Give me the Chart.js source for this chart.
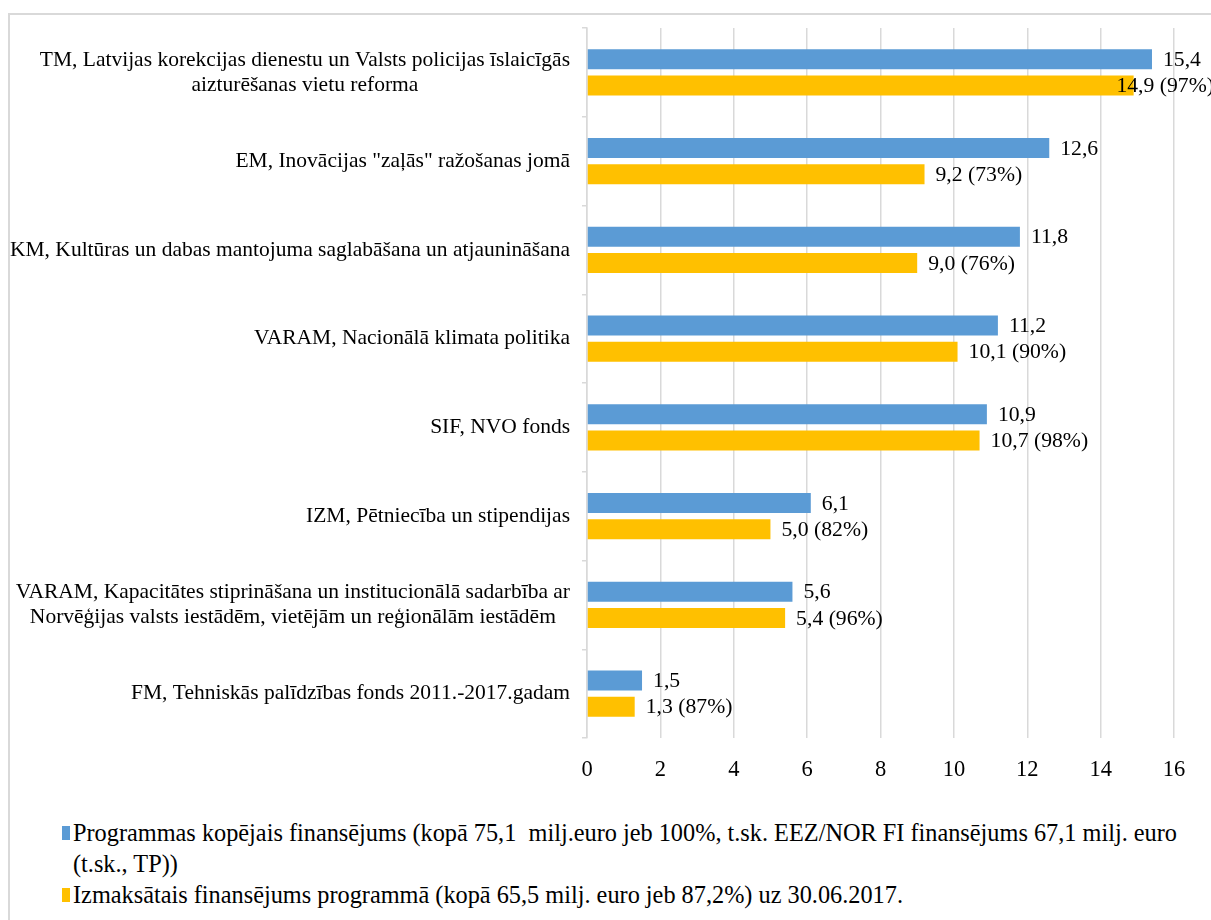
<!DOCTYPE html>
<html>
<head>
<meta charset="utf-8">
<script src="https://cdn.jsdelivr.net/npm/chart.js@4.4.1/dist/chart.umd.min.js"></script>
<style>
    html, body { margin: 0; padding: 0; background: #fff; overflow: hidden; }
    #wrap { position: relative; width: 1211px; height: 920px; overflow: hidden; }
    #frame {
        position: absolute; left: 8px; top: 13px; width: 1300px; height: 1000px;
        border: 2px solid #d9d9d9; box-sizing: border-box;
    }
    #chart-box { position: absolute; left: 0; top: 0; width: 1211px; height: 800px; }
    #legend {
        position: absolute; left: 62px; top: 817px; width: 1142px;
        font-family: "Liberation Serif", "Times New Roman", serif; font-size: 24.3px;
        line-height: 31px; color: #000;
    }
    .item { display: flex; align-items: flex-start; }
    .swatch { flex: none; width: 8px; height: 14px; margin-top: 9px; margin-right: 3px; }
    .text { flex: 1; white-space: pre-wrap; }
</style>
</head>
<body>
<div id="wrap">
    <div id="frame"></div>
    <div id="chart-box"><canvas id="bar-chart" width="1211" height="800"></canvas></div>
    <div id="legend"></div>
</div>
<script>
// Categories (multi-line labels)
const categories = [
    ['TM, Latvijas korekcijas dienestu un Valsts policijas īslaicīgās', 'aizturēšanas vietu reforma'],
    ['EM, Inovācijas "zaļās" ražošanas jomā'],
    ['KM, Kultūras un dabas mantojuma saglabāšana un atjaunināšana'],
    ['VARAM, Nacionālā klimata politika'],
    ['SIF, NVO fonds'],
    ['IZM, Pētniecība un stipendijas'],
    ['VARAM, Kapacitātes stiprināšana un institucionālā sadarbība ar', 'Norvēģijas valsts iestādēm, vietējām un reģionālām iestādēm'],
    ['FM, Tehniskās palīdzības fonds 2011.-2017.gadam']
];

// Series values (milj. euro)
const totalFunding = [15.4, 12.6, 11.8, 11.2, 10.9, 6.1, 5.6, 1.5];
const paidFunding = [14.9, 9.2, 9.0, 10.1, 10.7, 5.0, 5.4, 1.3];
const paidShare = [97, 73, 76, 90, 98, 82, 96, 87];

// Axis
const xMin = 0;
const xMax = 16;
const xStep = 2;

const seriesNames = [
    'Programmas kopējais finansējums (kopā 75,1  milj.euro jeb 100%, t.sk. EEZ/NOR FI finansējums 67,1 milj. euro (t.sk., TP))',
    'Izmaksātais finansējums programmā (kopā 65,5 milj. euro jeb 87,2%) uz 30.06.2017.'
];
const seriesColors = ['#5B9BD5', '#FFC000'];

const FONT = '"Liberation Serif", "Times New Roman", serif';

function fmt(v) {
    return v.toFixed(1).replace('.', ',');
}

/**
 * Draws category labels: lines centered inside a right-aligned block
 */
const categoryLabels = {
    id: 'categoryLabels',
    afterDraw(chart) {
        const ctx = chart.ctx;
        const yScale = chart.scales.y;
        const rightEdge = 570;
        const lineHeight = 25;
        ctx.save();
        ctx.font = '21.5px ' + FONT;
        ctx.fillStyle = '#000';
        ctx.textAlign = 'center';
        ctx.textBaseline = 'middle';
        categories.forEach((lines, i) => {
            const y = yScale.getPixelForValue(i);
            const maxW = Math.max(...lines.map(l => ctx.measureText(l).width));
            const cx = rightEdge - maxW / 2;
            const y0 = y - (lines.length - 1) * lineHeight / 2;
            lines.forEach((line, j) => ctx.fillText(line, cx, y0 + j * lineHeight));
        });
        ctx.restore();
    }
};

/**
 * Draws value labels to the right of each bar
 */
const valueLabels = {
    id: 'valueLabels',
    afterDatasetsDraw(chart) {
        const ctx = chart.ctx;
        ctx.save();
        ctx.font = '21.7px ' + FONT;
        ctx.fillStyle = '#000';
        ctx.textAlign = 'left';
        ctx.textBaseline = 'middle';
        chart.data.datasets.forEach((ds, di) => {
            chart.getDatasetMeta(di).data.forEach((bar, i) => {
                let text = fmt(ds.data[i]);
                if (di === 1) text += ' (' + paidShare[i] + '%)';
                const w = ctx.measureText(text).width;
                const x = Math.min(bar.x + 11, chart.width - w + 3);
                ctx.fillText(text, x, bar.y + 1);
            });
        });
        ctx.restore();
    }
};

function createChart() {
    const ctx = document.getElementById('bar-chart').getContext('2d');
    new Chart(ctx, {
        type: 'bar',
        data: {
            labels: categories.map(c => c.join(' ')),
            datasets: [
                { label: seriesNames[0], data: totalFunding, backgroundColor: seriesColors[0] },
                { label: seriesNames[1], data: paidFunding, backgroundColor: seriesColors[1] }
            ]
        },
        options: {
            indexAxis: 'y',
            responsive: false,
            animation: false,
            barPercentage: 0.77,
            categoryPercentage: 0.59,
            layout: { padding: { left: 0, right: 37, top: 28, bottom: 0 } },
            plugins: {
                legend: { display: false },
                tooltip: { enabled: false }
            },
            scales: {
                x: {
                    min: xMin,
                    max: xMax,
                    ticks: {
                        stepSize: xStep,
                        padding: 19,
                        color: '#000',
                        font: { family: FONT, size: 22.5 }
                    },
                    grid: { color: '#d9d9d9', lineWidth: 1.5, drawTicks: false },
                    border: { display: false },
                    afterFit(scale) { scale.height = 62; }
                },
                y: {
                    ticks: { display: false },
                    grid: {
                        drawOnChartArea: false,
                        drawTicks: true,
                        tickLength: 5,
                        color: '#d9d9d9',
                        lineWidth: 1.5
                    },
                    border: { display: true, color: '#d9d9d9', width: 1.5 },
                    afterFit(scale) { scale.width = 587; }
                }
            }
        },
        plugins: [categoryLabels, valueLabels]
    });
}

function buildLegend() {
    const box = document.getElementById('legend');
    seriesNames.forEach((name, i) => {
        const item = document.createElement('div');
        item.className = 'item';
        const sw = document.createElement('span');
        sw.className = 'swatch';
        sw.style.background = seriesColors[i];
        const tx = document.createElement('span');
        tx.className = 'text';
        tx.textContent = name;
        item.appendChild(sw);
        item.appendChild(tx);
        box.appendChild(item);
    });
}

createChart();
buildLegend();
</script>
</body>
</html>
